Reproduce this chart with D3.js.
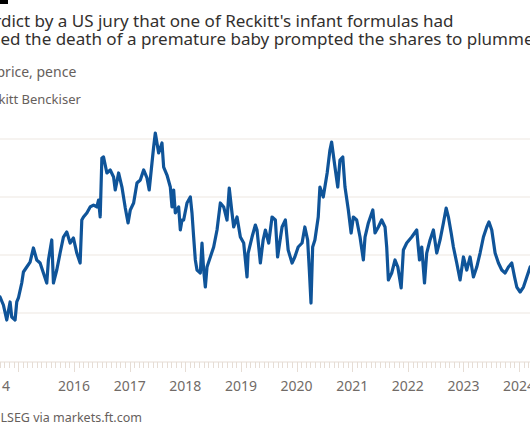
<!DOCTYPE html>
<html><head><meta charset="utf-8">
<script src="https://cdn.jsdelivr.net/npm/d3@7/dist/d3.min.js"></script>
<style>body{margin:0;background:#fff;} svg{display:block;}</style>
</head><body>
<script>
// ---- data (decimal years, pence) ----
const dates = [
2014.67,2014.73,2014.79,2014.85,2014.88,2014.94,2014.97,2015.00,2015.06,2015.09,2015.15,2015.21,2015.27,2015.33,2015.39,2015.45,2015.51,2015.54,2015.60,2015.63,2015.69,2015.75,2015.81,2015.87,2015.93,2015.99,
2016.05,2016.11,2016.14,2016.17,2016.23,2016.29,2016.35,2016.41,2016.44,2016.47,2016.50,2016.53,2016.59,2016.65,2016.71,2016.74,2016.80,2016.86,2016.92,2016.97,
2017.01,2017.07,2017.13,2017.19,2017.25,2017.31,2017.35,2017.40,2017.43,2017.46,2017.52,2017.58,2017.61,2017.67,2017.73,2017.76,2017.79,2017.82,2017.88,2017.91,2017.94,2017.97,
2018.03,2018.09,2018.12,2018.15,2018.18,2018.21,2018.27,2018.30,2018.33,2018.36,2018.39,2018.45,2018.51,2018.57,2018.63,2018.69,2018.75,2018.79,2018.84,2018.87,2018.93,2018.99,
2019.05,2019.11,2019.13,2019.20,2019.26,2019.29,2019.35,2019.40,2019.44,2019.50,2019.56,2019.62,2019.66,2019.74,2019.80,2019.85,2019.92,2019.97,
2020.03,2020.10,2020.15,2020.20,2020.23,2020.26,2020.29,2020.33,2020.39,2020.42,2020.48,2020.55,2020.60,2020.63,2020.69,2020.74,2020.78,2020.83,2020.87,2020.93,2020.98,
2021.02,2021.08,2021.14,2021.20,2021.23,2021.29,2021.37,2021.41,2021.47,2021.53,2021.59,2021.62,2021.65,2021.71,2021.77,2021.82,2021.88,2021.92,2021.98,
2022.07,2022.16,2022.21,2022.25,2022.30,2022.34,2022.40,2022.46,2022.52,2022.58,2022.64,2022.69,2022.73,2022.78,2022.82,2022.88,2022.94,
2023.00,2023.06,2023.12,2023.18,2023.24,2023.30,2023.36,2023.42,2023.46,2023.51,2023.57,2023.63,2023.69,2023.75,2023.81,2023.87,2023.92,2023.96,
2024.02,2024.08,2024.14,2024.20
];
const prices = [
5276,5138,4879,5190,4931,4879,5190,5259,5517,5707,5793,5879,6121,5914,5862,5690,5517,5914,6259,5517,5741,6034,6310,6397,6207,6293,
6034,5862,6603,6655,6724,6828,6862,6828,6948,6655,7672,7690,7414,7466,7345,7121,7414,7172,6810,6552,
6776,6897,7241,7293,7466,7328,7121,7586,7862,8103,7759,7931,7517,7379,7172,6828,7121,6724,6828,6431,6603,6603,
6897,7000,6724,6310,5914,5741,5690,6207,5741,5448,5793,5966,6138,6431,6897,6828,6603,7155,6724,6483,6655,6310,
6207,5621,6034,6310,6517,6431,5862,6259,6431,6207,6655,6603,5966,6483,6603,6086,5862,5966,
6138,6207,6483,6259,5741,5172,6138,6259,6655,7172,7000,7414,7810,7948,7517,7172,7638,7690,7172,6776,6379,
6655,6603,6310,5914,6310,6552,6776,6379,6483,6603,6483,6138,5569,5690,5914,5793,5431,6086,6207,
6310,6431,5914,6138,5517,6034,6259,6431,6034,6259,6552,6810,6655,6379,6138,5862,5569,
5966,5741,5966,5621,5793,6034,6310,6483,6569,6431,6034,5862,5741,5690,5793,5862,5621,5448,
5362,5448,5621,5793
];
const gridValues = [5000, 6000, 7000, 8000];
const tickLabelText = ["2014","2016","2017","2018","2019","2020","2021","2022","2023","2024"];
const tickLabelAt   = [2014.56,2016,2017,2018,2019,2020,2021,2022,2023,2024];

const title1 = "A verdict by a US jury that one of Reckitt's infant formulas had";
const title2 = "caused the death of a premature baby prompted the shares to plummet";
const subtitle = "Share price, pence";
const legendLabel = "Reckitt Benckiser";
const source = "Source: LSEG via markets.ft.com";

// ---- setup ----
const W = 530, H = 442;
const FONT = "'Noto Sans', 'Open Sans', sans-serif";
function dy(y){ const yr=Math.floor(y); const a=new Date(yr,0,1), b=new Date(yr+1,0,1); return new Date(+a + (y-yr)*(b-a)); }

const svg = d3.select("body").append("svg").attr("width", W).attr("height", H);

const x = d3.scaleTime().domain([new Date(2016,0,1), new Date(2024,0,1)]).range([74, 519]);
const y = d3.scaleLinear().domain([5000, 8000]).range([313, 139]);
const axisY = 362;

// FT bar
svg.append("rect").attr("x", -52).attr("y", 0).attr("width", 60).attr("height", 4).attr("fill", "#000");

function clipped(str, hidden, visX, yy, size, color, weight){
  const t = svg.append("text").attr("y", yy).attr("font-family", FONT).attr("font-size", size)
    .attr("fill", color).attr("font-weight", weight||400).text(str);
  const w = hidden.length ? t.node().getSubStringLength(0, hidden.length) : 0;
  t.attr("x", visX - w);
  return t;
}
// fit title size to the visible width of line 1
const probe = svg.append("text").attr("font-family", FONT).attr("font-size", 17).text(title1);
const vis1 = probe.node().getSubStringLength(5, title1.length - 5);
probe.remove();
const tSize = 17 * 453 / vis1;

clipped(title1, "A ver", 1, 27, tSize, "#33302e");
clipped(title2, "caus", 0.5, 45, tSize, "#33302e");
clipped(subtitle, "Share ", -3.5, 77, 14, "#66605c");
clipped(legendLabel, "Rec", -1.5, 104, 13, "#66605c");
clipped(source, "Source: ", 0.5, 422, 12.5, "#66605c");

// gridlines
svg.append("g").selectAll("line").data(gridValues).join("line")
  .attr("x1", 0).attr("x2", W).attr("y1", d => y(d)).attr("y2", d => y(d))
  .attr("stroke", "#ede7e1").attr("stroke-width", 1);

// x axis: baseline + monthly ticks + yearly ticks
const months = d3.timeMonth.range(new Date(2014,0,1), new Date(2025,0,1));
svg.append("line").attr("x1", 0).attr("x2", W).attr("y1", axisY).attr("y2", axisY)
  .attr("stroke", "#e6ddd5").attr("stroke-width", 1);
svg.append("g").selectAll("line").data(months).join("line")
  .attr("x1", d => Math.round(x(d)) + 0.5).attr("x2", d => Math.round(x(d)) + 0.5)
  .attr("y1", axisY).attr("y2", d => d.getMonth() === 0 ? axisY + 10 : axisY + 6)
  .attr("stroke", "#e6ddd5").attr("stroke-width", 1);

svg.append("g").selectAll("text").data(tickLabelText).join("text")
  .attr("x", (d, i) => x(dy(tickLabelAt[i]))).attr("y", 391)
  .attr("text-anchor", "middle").attr("font-family", FONT).attr("font-size", 14)
  .attr("fill", "#716b67").text(d => d);

// price line
const pts = dates.map((d, i) => [dy(d), prices[i]]);
svg.append("path").datum(pts)
  .attr("d", d3.line().x(d => x(d[0])).y(d => y(d[1])))
  .attr("fill", "none").attr("stroke", "#0f5499").attr("stroke-width", 3.2)
  .attr("stroke-linejoin", "round").attr("stroke-linecap", "round");
</script>
</body></html>
